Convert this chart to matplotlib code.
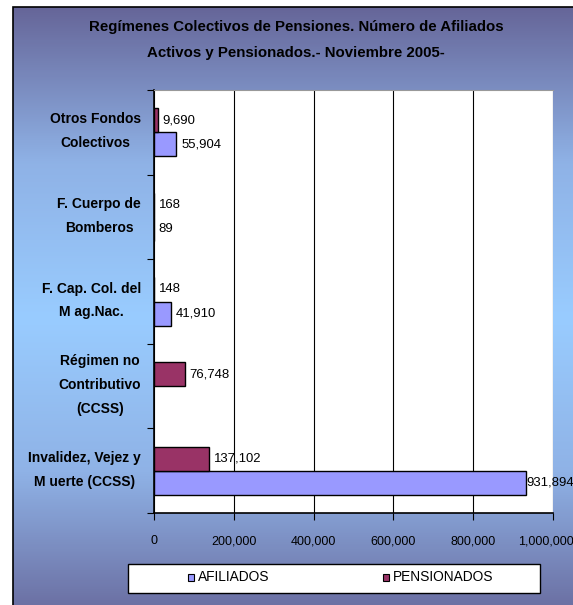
import numpy as np
import matplotlib
matplotlib.use('Agg')
import matplotlib.pyplot as plt
from matplotlib import font_manager
from matplotlib.colors import LinearSegmentedColormap
from matplotlib.patches import Rectangle
import matplotlib.transforms as mtransforms

# Datos
categorias = ['Invalidez, Vejez y\nM uerte (CCSS)', 'Régimen no\nContributivo\n(CCSS)',
              'F. Cap. Col. del\nM ag.Nac.', 'F. Cuerpo de\nBomberos', 'Otros Fondos\nColectivos']
afiliados = [931894, None, 41910, 89, 55904]
pensionados = [137102, 76748, 148, 168, 9690]
xticks = [0, 200000, 400000, 600000, 800000, 1000000]
series = ['AFILIADOS', 'PENSIONADOS']
titulo = 'Regímenes Colectivos de Pensiones. Número de Afiliados\nActivos y Pensionados.- Noviembre 2005-'

# fuente estrecha si existe
nombres = {f.name for f in font_manager.fontManager.ttflist}
if 'Liberation Sans Narrow' in nombres:
    narrow = ['Liberation Sans Narrow', 'DejaVu Sans']
    esc = 1.0
else:
    narrow = ['Liberation Sans', 'DejaVu Sans']
    esc = 0.9
col_afil = '#9999ff'
col_pens = '#993366'

W, H = 573, 605
fig = plt.figure(figsize=(W / 100, H / 100), dpi=100)
fig.patch.set_facecolor('white')

# fondo con degradado
bg = fig.add_axes([13 / W, 0, 1 - 13 / W, 1 - 7 / H])
grad = np.linspace(0, 1, 256)
grad = 1 - np.abs(grad - 0.52) / 0.52
cmap = LinearSegmentedColormap.from_list('fondo', ['#666699', '#8fb2e6', '#99ccff'])
bg.imshow(grad[:, None], aspect='auto', cmap=cmap, extent=[0, 1, 0, 1], vmin=0, vmax=1)
bg.set_xlim(0, 1)
bg.set_ylim(0, 1)
bg.axis('off')
fig.patches.append(Rectangle((13 / W, -0.01), 1.0, 1 - 7 / H + 0.01, transform=fig.transFigure,
                             fill=False, edgecolor='black', linewidth=1.2))

fig.text(296 / W, 1 - 40 / H, titulo, ha='center', va='center', fontsize=12 * esc,
         fontweight='bold', family=narrow, linespacing=2.0)

ax = fig.add_axes([154 / W, 1 - 513 / H, (553 - 154) / W, (513 - 90) / H])
ax.set_facecolor('white')
y = np.arange(len(categorias))
h = 0.284
ya = [y[i] - h / 2 for i in range(len(categorias)) if afiliados[i] is not None]
va = [v for v in afiliados if v is not None]
ax.barh(ya, va, height=h, color=col_afil, edgecolor='black', linewidth=1, zorder=3)
ax.barh(y + h / 2, pensionados, height=h, color=col_pens, edgecolor='black', linewidth=1, zorder=3)

for i in range(len(categorias)):
    if afiliados[i] is not None:
        dx = 12000 if afiliados[i] < 900000 else 1000
        ax.text(afiliados[i] + dx, y[i] - h / 2, f'{afiliados[i]:,}', va='center', ha='left',
                fontsize=10.5 * esc, family=narrow, clip_on=False, zorder=5)
    ax.text(pensionados[i] + 12000, y[i] + h / 2, f'{pensionados[i]:,}', va='center', ha='left',
            fontsize=10.5 * esc, family=narrow, clip_on=False, zorder=5)

ax.set_xlim(0, 1000000)
ax.set_ylim(-0.5, len(categorias) - 0.5)
ax.set_xticks(xticks)
ax.set_xticklabels([f'{v:,}' for v in xticks], family=narrow, fontsize=10 * esc)
ax.tick_params(axis='x', direction='out', length=5, pad=11)
# ultima etiqueta un poco a la izquierda para que quepa
ult = ax.get_xticklabels()[-1]
ult.set_transform(ult.get_transform() + mtransforms.ScaledTranslation(-7 / 100, 0, fig.dpi_scale_trans))
ax.set_yticks(np.arange(-0.5, len(categorias), 1))
ax.set_yticklabels([])
ax.tick_params(axis='y', direction='out', length=5)

# etiquetas de categorias
desp = ax.get_yaxis_transform() + mtransforms.ScaledTranslation(-13 / 100, 1 / 100, fig.dpi_scale_trans)
for i, cat in enumerate(categorias):
    ax.text(0, y[i], cat, transform=desp, ha='right', va='center', fontsize=10, fontweight='bold',
            family=['Liberation Sans', 'DejaVu Sans'], linespacing=1.9, multialignment='center')

ax.grid(axis='x', color='black', linewidth=0.8, zorder=0)
ax.spines['top'].set_color('#999999')
ax.spines['right'].set_visible(False)
ax.spines['left'].set_linewidth(1.2)
ax.spines['bottom'].set_linewidth(1.2)

# leyenda
fig.patches.append(Rectangle((128 / W, 1 - 593 / H), (540 - 128) / W, 29 / H, transform=fig.transFigure,
                             facecolor='white', edgecolor='black', linewidth=1, zorder=5))
for nombre, color, xm in zip(series, [col_afil, col_pens], [188, 383]):
    fig.patches.append(Rectangle((xm / W, 1 - 581 / H), 6 / W, 7 / H, transform=fig.transFigure,
                                 facecolor=color, edgecolor='black', linewidth=0.8, zorder=6))
    fig.text((xm + 10) / W, 1 - 577 / H, nombre, ha='left', va='center', fontsize=11 * esc,
             family=narrow, zorder=7)

fig.savefig('out.png', dpi=100)
